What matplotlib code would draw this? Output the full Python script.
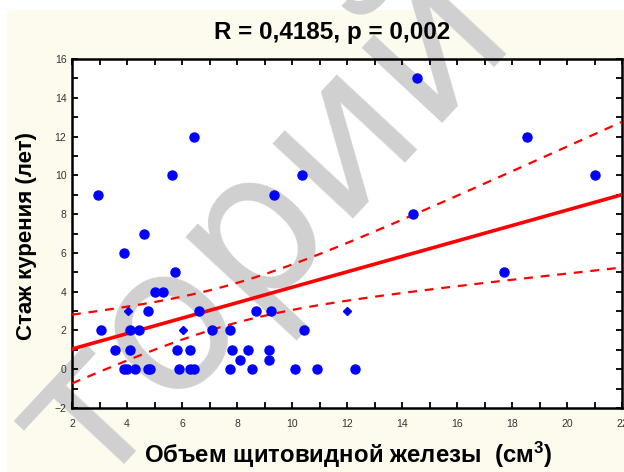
import numpy as np
import matplotlib
matplotlib.use("Agg")
from matplotlib import pyplot as plt
from matplotlib.patches import Rectangle

# thyroid volume (cm3) vs smoking years
volume = [2.95, 6.45, 5.65, 9.35, 10.35, 4.6, 3.9, 14.55, 18.55, 21.0,
          14.4, 17.7, 10.45, 10.9, 12.3, 5.75, 5.0, 5.3, 3.05, 4.75,
          6.6, 8.7, 9.25, 4.1, 4.45, 7.1, 7.75, 3.55, 4.1, 5.8,
          6.3, 7.8, 8.4, 9.15, 8.1, 9.15,
          3.9, 4.0, 4.3, 4.75, 4.85, 5.9, 6.3, 6.45, 7.75, 8.55, 10.1]
years = [9, 12, 10, 9, 10, 7, 6, 15, 12, 10,
         8, 5, 2, 0, 0, 5, 4, 4, 2, 3,
         3, 3, 3, 2, 2, 2, 2, 1, 1, 1,
         1, 1, 1, 1, 0.5, 0.5,
         0, 0, 0, 0, 0, 0, 0, 0, 0, 0, 0]
# points drawn smaller in the original
volume_small = [12.0, 4.05, 6.05]
years_small = [3, 3, 2]

title = "R = 0,4185, p = 0,002"
xlabel = "Объем щитовидной железы  (см$^{3}$)"
ylabel = "Стаж курения (лет)"
xticks = [2, 4, 6, 8, 10, 12, 14, 16, 18, 20, 22]
yticks = [-2, 0, 2, 4, 6, 8, 10, 12, 14, 16]
t_crit = 2.0106  # t(0.975, df=48)

plt.rcParams['font.family'] = ['Liberation Sans', 'DejaVu Sans']
plt.rcParams['mathtext.fontset'] = 'custom'
plt.rcParams['mathtext.bf'] = 'Liberation Sans:bold'
plt.rcParams['mathtext.rm'] = 'Liberation Sans:bold'
plt.rcParams['mathtext.default'] = 'bf'

cream = '#fdfaee'
fig = plt.figure(figsize=(6.24, 4.72), dpi=100, facecolor=cream)
# white strips at the top and left edge of the page
fig.patches.append(Rectangle((0, 1 - 10 / 472), 1, 10 / 472, transform=fig.transFigure,
                             facecolor='white', edgecolor='none', zorder=-3))
fig.patches.append(Rectangle((0, 0), 7 / 624, 1, transform=fig.transFigure,
                             facecolor='white', edgecolor='none', zorder=-3))

ax_rect = [72 / 624, 1 - 408 / 472, 550 / 624, 349 / 472]
fig.patches.append(Rectangle(ax_rect[:2], ax_rect[2], ax_rect[3], transform=fig.transFigure,
                             facecolor='white', edgecolor='none', zorder=-2))
# watermark sits under the data
fig.text(262 / 624, 1 - 228 / 472, "торий", rotation=47, fontsize=145, color='#d0d0d0',
         ha='center', va='center', family='DejaVu Sans', zorder=-1)

ax = fig.add_axes(ax_rect)
ax.set_facecolor('none')
ax.set_zorder(0)

allx = np.array(volume + volume_small)
ally = np.array(years + years_small)
n = len(allx)
slope, icpt = np.polyfit(allx, ally, 1)
xm = allx.mean()
sxx = ((allx - xm) ** 2).sum()
s = np.sqrt(((ally - (icpt + slope * allx)) ** 2).sum() / (n - 2))
xg = np.linspace(2, 22, 200)
yg = icpt + slope * xg
half = t_crit * s * np.sqrt(1 / n + (xg - xm) ** 2 / sxx)

ax.plot(xg, yg, color='red', lw=2.6, zorder=3)
ax.plot(xg, yg + half, color='red', lw=1.6, dashes=(4, 3.5), zorder=3)
ax.plot(xg, yg - half, color='red', lw=1.6, dashes=(4, 3.5), zorder=3)
ax.plot(volume, years, 'o', color='#0000ff', ms=6.5, mec='#0000ff', zorder=4)
ax.plot(volume_small, years_small, 'D', color='#0000ff', ms=4, mec='#0000ff', zorder=4)

ax.set_xlim(2, 22)
ax.set_ylim(-2, 16)
ax.set_xticks(xticks)
ax.set_yticks(yticks)
ax.set_xticks(np.arange(2, 23), minor=True)
ax.set_yticks(np.arange(-2, 17), minor=True)
ax.tick_params(which='both', direction='in', top=True, right=True, length=4, width=1.3,
               labelsize=7.5, labelcolor='#333333')
ax.tick_params(axis='x', pad=8)
ax.tick_params(axis='y', pad=4)
for sp in ax.spines.values():
    sp.set_linewidth(1.8)

fig.text(332 / 624, 1 - 39 / 472, title, fontsize=17.5, fontweight='bold',
         ha='center', va='baseline')
fig.text(348 / 624, 1 - 463 / 472, xlabel, fontsize=17.3, fontweight='bold',
         ha='center', va='baseline')
fig.text(27 / 624, 1 - 236 / 472, ylabel, fontsize=16, fontweight='bold',
         ha='center', va='center', rotation=90)

fig.savefig('out.png', dpi=100, facecolor=cream)
